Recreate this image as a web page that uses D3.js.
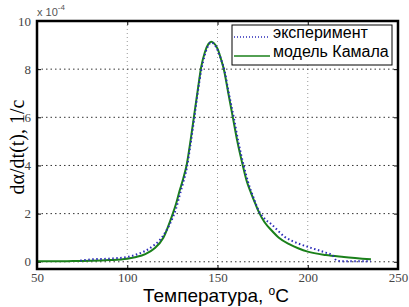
<!DOCTYPE html>
<html>
<head>
<meta charset="utf-8">
<script src="https://cdn.jsdelivr.net/npm/d3@7"></script>
<style>
  body { margin: 0; background: #fff; }
  svg { display: block; }
  .serif { font-family: "Liberation Serif", "DejaVu Serif", serif; }
</style>
</head>
<body>
<div id="chart"></div>
<script>
// experiment (dotted) and Kamal model (solid), values in 1e-4 1/c
const expT = [74, 80, 90, 100, 105, 110, 115, 118, 120, 125, 127, 129, 131, 133, 135, 137, 139, 141, 143, 145, 146.5, 148, 150, 152, 154, 156, 159, 161.5, 164.5, 167, 170, 173, 176, 180, 187, 195, 200, 205, 210, 214, 216, 220, 235];
const expV = [0.05, 0.1, 0.13, 0.2, 0.3, 0.45, 0.7, 0.9, 1.1, 1.8, 2.2, 2.75, 3.3, 3.9, 4.85, 5.9, 7.0, 7.95, 8.6, 9.0, 9.1, 9.05, 8.8, 8.4, 7.9, 7.1, 6.0, 5.0, 4.0, 3.3, 2.65, 2.1, 1.8, 1.55, 1.05, 0.75, 0.62, 0.5, 0.38, 0.25, 0.05, 0.02, 0.02];

const modT = [50, 60, 70, 80, 90, 100, 105, 110, 115, 120, 125, 127, 129, 131, 133, 135, 137, 139, 141, 143, 145, 146.5, 148, 150, 152, 153.5, 156, 158.5, 161, 164, 166, 168.6, 171, 173, 176, 180, 184, 190, 195, 200, 210, 220, 235];
const modV = [0.02, 0.02, 0.03, 0.04, 0.07, 0.13, 0.2, 0.32, 0.55, 1.0, 1.95, 2.4, 2.95, 3.45, 4.05, 5.0, 6.05, 7.1, 8.1, 8.7, 9.05, 9.14, 9.08, 8.85, 8.4, 8.0, 7.0, 6.0, 5.0, 4.0, 3.4, 2.85, 2.4, 2.05, 1.65, 1.3, 1.0, 0.72, 0.55, 0.42, 0.28, 0.2, 0.1];

const xTicks = [50, 100, 150, 200, 250];
const yTicks = [0, 2, 4, 6, 8, 10];
const legendLabels = ["эксперимент", "модель Камала"];

const sans = "'Liberation Sans', Arial, sans-serif";

const W = 409, H = 307;
const margin = { top: 21, right: 11, bottom: 38, left: 37 };
const width = W - margin.left - margin.right;
const height = H - margin.top - margin.bottom;

const svg = d3.select("#chart").append("svg")
    .attr("width", W)
    .attr("height", H);

const g = svg.append("g")
    .attr("transform", `translate(${margin.left},${margin.top})`);

const x = d3.scaleLinear().domain([50, 250]).range([0, width]);
const y = d3.scaleLinear().domain([-0.3, 10]).range([height, 0]);

// grid
g.append("g").selectAll("line")
    .data(xTicks.slice(1, -1))
    .join("line")
    .attr("x1", d => x(d)).attr("x2", d => x(d))
    .attr("y1", 0).attr("y2", height)
    .attr("stroke", "#999").attr("stroke-width", 1)
    .attr("stroke-dasharray", "1,3");

g.append("g").selectAll("line")
    .data(yTicks.slice(0, -1))
    .join("line")
    .attr("x1", 0).attr("x2", width)
    .attr("y1", d => y(d)).attr("y2", d => y(d))
    .attr("stroke", "#333").attr("stroke-width", 1)
    .attr("stroke-dasharray", "1.5,3");

// axes (ticks inside)
const xAxis = g.append("g")
    .attr("transform", `translate(0,${height})`)
    .call(d3.axisBottom(x).tickValues(xTicks).tickSizeInner(-4).tickSizeOuter(0).tickPadding(4));
const yAxis = g.append("g")
    .call(d3.axisLeft(y).tickValues(yTicks).tickSizeInner(-4).tickSizeOuter(0).tickPadding(6));
g.append("g")
    .call(d3.axisTop(x).tickValues(xTicks).tickSizeInner(-4).tickSizeOuter(0).tickFormat(""));
g.append("g")
    .attr("transform", `translate(${width},0)`)
    .call(d3.axisRight(y).tickValues(yTicks).tickSizeInner(-4).tickSizeOuter(0).tickFormat(""));

g.selectAll(".domain").remove();
g.selectAll(".tick line").attr("stroke", "#000");
[xAxis, yAxis].forEach(a => {
    a.attr("font-family", null).attr("font-size", null);
    a.selectAll("text")
        .attr("class", "serif")
        .style("font-size", "13px")
        .attr("fill", "#444");
});

// lines
const line = d3.line().curve(d3.curveMonotoneX).x(d => x(d[0])).y(d => y(d[1]));

g.append("path")
    .datum(modT.map((t, i) => [t, modV[i]]))
    .attr("d", line)
    .attr("fill", "none")
    .attr("stroke", "#1a801a")
    .attr("stroke-width", 2);

g.append("path")
    .datum(expT.map((t, i) => [t, expV[i]]))
    .attr("d", line)
    .attr("fill", "none")
    .attr("stroke", "#2a2ab8")
    .attr("stroke-width", 2)
    .attr("stroke-dasharray", "1.5,2.5");

// frame
g.append("rect")
    .attr("width", width).attr("height", height)
    .attr("fill", "none")
    .attr("stroke", "#000")
    .attr("stroke-width", 2.5);

// exponent
const expo = svg.append("text")
    .attr("x", margin.left)
    .attr("y", 16)
    .attr("font-family", sans)
    .attr("font-size", 11)
    .attr("fill", "#555");
expo.append("tspan").text("x 10");
expo.append("tspan").attr("dy", -6).attr("font-size", 8).text("-4");

// legend
const lg = svg.append("g").attr("transform", "translate(232,25)");
lg.append("rect")
    .attr("width", 160).attr("height", 40)
    .attr("fill", "#fff").attr("stroke", "#000").attr("stroke-width", 1);
lg.append("line")
    .attr("x1", 2).attr("x2", 38).attr("y1", 12).attr("y2", 12)
    .attr("stroke", "#2a2ab8").attr("stroke-width", 1.5)
    .attr("stroke-dasharray", "1,2");
lg.append("line")
    .attr("x1", 2).attr("x2", 38).attr("y1", 31).attr("y2", 31)
    .attr("stroke", "#1a801a").attr("stroke-width", 1.5);
lg.selectAll("text.lab")
    .data(legendLabels)
    .join("text")
    .attr("class", "lab")
    .attr("x", 41)
    .attr("y", (d, i) => 13 + i * 19)
    .attr("font-family", sans)
    .attr("font-size", 16)
    .text(d => d);

// axis titles
const xl = svg.append("text")
    .attr("x", 216)
    .attr("y", 302)
    .attr("text-anchor", "middle")
    .attr("font-family", sans)
    .attr("font-size", 19);
xl.append("tspan").text("Температура, ");
xl.append("tspan").attr("dy", -7).attr("font-size", 12).text("o");
xl.append("tspan").attr("dy", 7).text("C");

svg.append("text")
    .attr("class", "serif")
    .attr("transform", "translate(24,147) rotate(-90)")
    .attr("text-anchor", "middle")
    .style("font-size", "20px")
    .text("dα/dt(t), 1/c");
</script>
</body>
</html>
